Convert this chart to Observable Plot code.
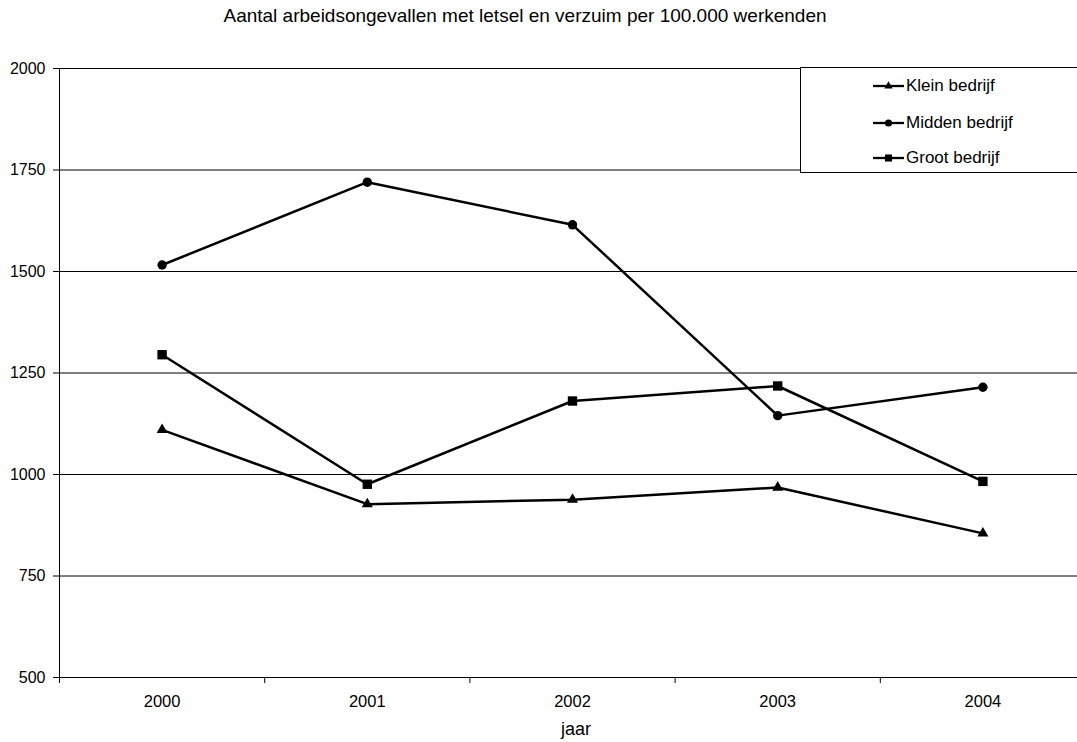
<!DOCTYPE html>
<html>
<head>
<meta charset="utf-8">
<script src="https://cdn.jsdelivr.net/npm/d3@7"></script>
<script src="https://cdn.jsdelivr.net/npm/@observablehq/plot@0.6"></script>
<style>
  html, body { margin: 0; padding: 0; background: #fff; overflow: hidden; }
  #chart {
    position: relative; width: 1077px; height: 742px; overflow: hidden;
    font-family: "Liberation Sans", Arial, sans-serif; color: #000;
  }
  #title {
    position: absolute; left: 0; top: 5.5px; width: 1050px;
    text-align: center; font-size: 19px; line-height: 19px; white-space: nowrap;
  }
  #xlabel {
    position: absolute; left: 0; top: 720px; width: 1152px;
    text-align: center; font-size: 18px; line-height: 18px;
  }
  #legend {
    position: absolute; left: 800px; top: 67px; width: 300px; height: 104px;
    border: 1px solid #000; background: #fff;
  }
  .row { position: absolute; left: 72px; height: 20px; display: flex; align-items: center; }
  .row svg { display: block; }
  .row span { margin-left: 2px; font-size: 17px; line-height: 20px; white-space: nowrap; }
</style>
</head>
<body>
<div id="chart">
  <div id="plot"></div>
  <div id="title"></div>
  <div id="xlabel"></div>
  <div id="legend"></div>
</div>
<script>
// Accidents with injury and absence per 100,000 workers, by company size
const title = "Aantal arbeidsongevallen met letsel en verzuim per 100.000 werkenden";
const xLabel = "jaar";
const years = [2000, 2001, 2002, 2003, 2004];
const series = ["Klein bedrijf", "Midden bedrijf", "Groot bedrijf"];
const klein = [1110, 927, 938, 968, 855];
const midden = [1516, 1720, 1615, 1145, 1215];
const groot = [1295, 976, 1181, 1218, 983];
const yTicks = [500, 750, 1000, 1250, 1500, 1750, 2000];

const values = [klein, midden, groot];
const symbolNames = ["triangle", "circle", "square"];
const symbolTypes = [d3.symbolTriangle, d3.symbolCircle, d3.symbolSquare];
const markerR = [4.1, 4.7, 5.3];
const legendR = [3.1, 3.6, 4.0];

const rows = series.flatMap((s, i) =>
  years.map((year, j) => ({series: s, year, value: values[i][j]}))
);

// category boundaries, where the Excel-style ticks sit
const boundaries = d3.range(years.length + 1).map(i => years[0] - 0.5 + i);

const chart = Plot.plot({
  width: 1085,
  height: 742,
  marginLeft: 59,
  marginRight: 0,
  marginTop: 68,
  marginBottom: 65,
  style: {
    fontFamily: '"Liberation Sans", Arial, sans-serif',
    fontSize: "16px",
    color: "#000",
    background: "#fff",
    maxWidth: "none"
  },
  x: {domain: [boundaries[0], boundaries[boundaries.length - 1]], label: null},
  y: {domain: [yTicks[0], yTicks[yTicks.length - 1]], label: null},
  marks: [
    Plot.gridY(yTicks.slice(1), {stroke: "#000", strokeOpacity: 1, strokeWidth: 1}),
    Plot.ruleY([yTicks[0]], {stroke: "#000", strokeWidth: 1}),
    Plot.ruleX([boundaries[0]], {stroke: "#000", strokeWidth: 1}),
    Plot.axisY(yTicks, {tickSize: 6, tickPadding: 8, tickFormat: d => String(d), label: null}),
    Plot.axisX(boundaries, {tickSize: 6, tickFormat: () => "", label: null}),
    Plot.axisX(years, {tickSize: 0, tickPadding: 18, tickFormat: d => String(d), fontSize: 16.5, label: null}),
    Plot.line(rows, {x: "year", y: "value", z: "series", stroke: "#000", strokeWidth: 2.5}),
    ...series.map((s, i) =>
      Plot.dot(rows.filter(d => d.series === s), {
        x: "year", y: "value", symbol: symbolNames[i], r: markerR[i], fill: "#000", stroke: "none"
      })
    )
  ]
});
document.getElementById("plot").append(chart);

document.getElementById("title").textContent = title;
document.getElementById("xlabel").textContent = xLabel;

// legend box with line + marker samples
const legend = d3.select("#legend");
const rowCenters = [18, 54.7, 89.7];
series.forEach((s, i) => {
  const row = legend.append("div").attr("class", "row").style("top", (rowCenters[i] - 10) + "px");
  const svg = row.append("svg").attr("width", 31).attr("height", 20);
  svg.append("line").attr("x1", 0).attr("x2", 31).attr("y1", 10).attr("y2", 10)
    .attr("stroke", "#000").attr("stroke-width", 2.3);
  svg.append("path")
    .attr("transform", "translate(15.5,10)")
    .attr("d", d3.symbol(symbolTypes[i], Math.PI * legendR[i] * legendR[i])())
    .attr("fill", "#000");
  row.append("span").text(s);
});
</script>
</body>
</html>
